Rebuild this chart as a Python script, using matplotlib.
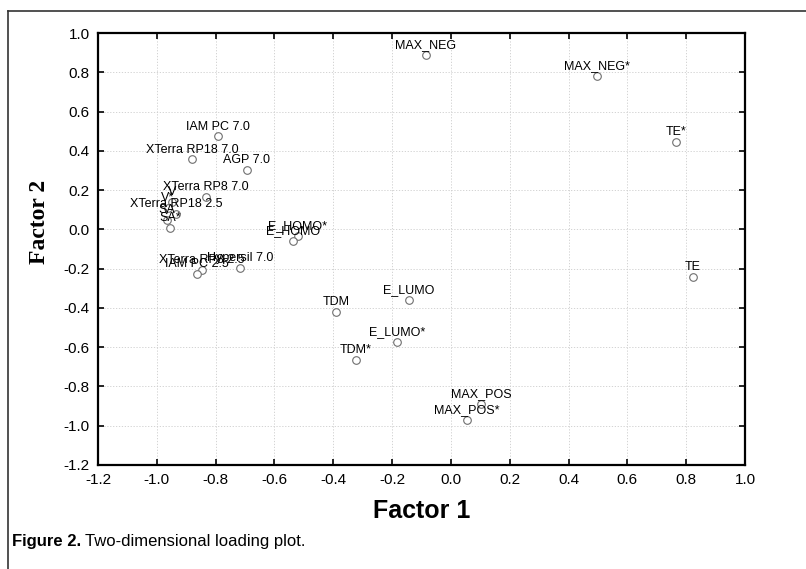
import matplotlib
matplotlib.use("Agg")
import matplotlib.pyplot as plt
from matplotlib.lines import Line2D
from matplotlib.ticker import MultipleLocator, FormatStrFormatter
from matplotlib import font_manager

# loadings
names = ["MAX_NEG", "MAX_NEG*", "TE*", "TE",
         "IAM PC 7.0", "XTerra RP18 7.0", "AGP 7.0", "XTerra RP8 7.0",
         "V", "V*", "XTerra RP18 2.5", "SA", "SA*",
         "E_HOMO*", "E_HOMO",
         "Hypersil 7.0", "XTerra RP8 2.5", "IAM PC 2.5",
         "TDM", "E_LUMO", "E_LUMO*", "TDM*",
         "MAX_POS", "MAX_POS*"]
factor1 = [-0.085, 0.497, 0.765, 0.822,
           -0.791, -0.880, -0.695, -0.834,
           -0.949, -0.963, -0.935, -0.966, -0.956,
           -0.521, -0.538,
           -0.717, -0.846, -0.865,
           -0.391, -0.144, -0.184, -0.324,
           0.104, 0.055]
factor2 = [0.886, 0.779, 0.443, -0.243,
           0.473, 0.356, 0.304, 0.165,
           0.140, 0.107, 0.077, 0.050, 0.005,
           -0.036, -0.058,
           -0.195, -0.205, -0.226,
           -0.419, -0.358, -0.572, -0.663,
           -0.891, -0.969]

plt.rcParams['font.family'] = ['Liberation Sans', 'DejaVu Sans']

installed = {f.name for f in font_manager.fontManager.ttflist}
narrow = 'Liberation Sans Narrow' if 'Liberation Sans Narrow' in installed else 'Liberation Sans'

fig = plt.figure(figsize=(8.06, 5.69), dpi=100)
ax = fig.add_axes([0.1216, 0.1828, 0.8027, 0.7592])

ax.scatter(factor1, factor2, s=30, facecolors='white', edgecolors='#6e6e6e',
           linewidths=0.8, zorder=3)
for name, x, y in zip(names, factor1, factor2):
    ax.annotate(name, (x, y), xytext=(0, 5), textcoords='offset points',
                ha='center', va='baseline', fontsize=9, color='black',
                zorder=4)

ax.set_xlim(-1.2, 1.0)
ax.set_ylim(-1.2, 1.0)
ax.xaxis.set_major_locator(MultipleLocator(0.2))
ax.yaxis.set_major_locator(MultipleLocator(0.2))
ax.xaxis.set_major_formatter(FormatStrFormatter('%.1f'))
ax.yaxis.set_major_formatter(FormatStrFormatter('%.1f'))
ax.grid(True, linestyle=(0, (1.5, 2)), color='#cccccc', linewidth=0.6)
ax.set_axisbelow(True)
ax.tick_params(direction='in', length=4, width=1.2, top=True, right=True,
               labelsize=11, pad=6)
for sp in ax.spines.values():
    sp.set_linewidth(1.6)

fig.text(0.5229, 0.102, "Factor 1", ha='center', va='center', fontsize=18,
         fontweight='bold', family=[narrow])
fig.text(0.0496, 0.61, "Factor 2", ha='center', va='center', fontsize=17,
         fontweight='bold', rotation=90, family=['Liberation Serif'])

cap1 = fig.text(0.015, 0.048, "Figure 2.", ha='left', va='center',
                fontsize=12, fontweight='bold', family=[narrow])
fig.canvas.draw()
bb = cap1.get_window_extent()
x_next = (bb.x1 + 4) / fig.bbox.width
fig.text(x_next, 0.048, "Two-dimensional loading plot.", ha='left',
         va='center', fontsize=12, family=[narrow])

# open frame around the figure
fig.add_artist(Line2D([0.0099, 0.0099], [0.0, 0.9807], color='#333333',
                      linewidth=1.2, transform=fig.transFigure))
fig.add_artist(Line2D([0.0099, 1.0], [0.9807, 0.9807], color='#333333',
                      linewidth=1.2, transform=fig.transFigure))

fig.savefig("out.png", dpi=100)
